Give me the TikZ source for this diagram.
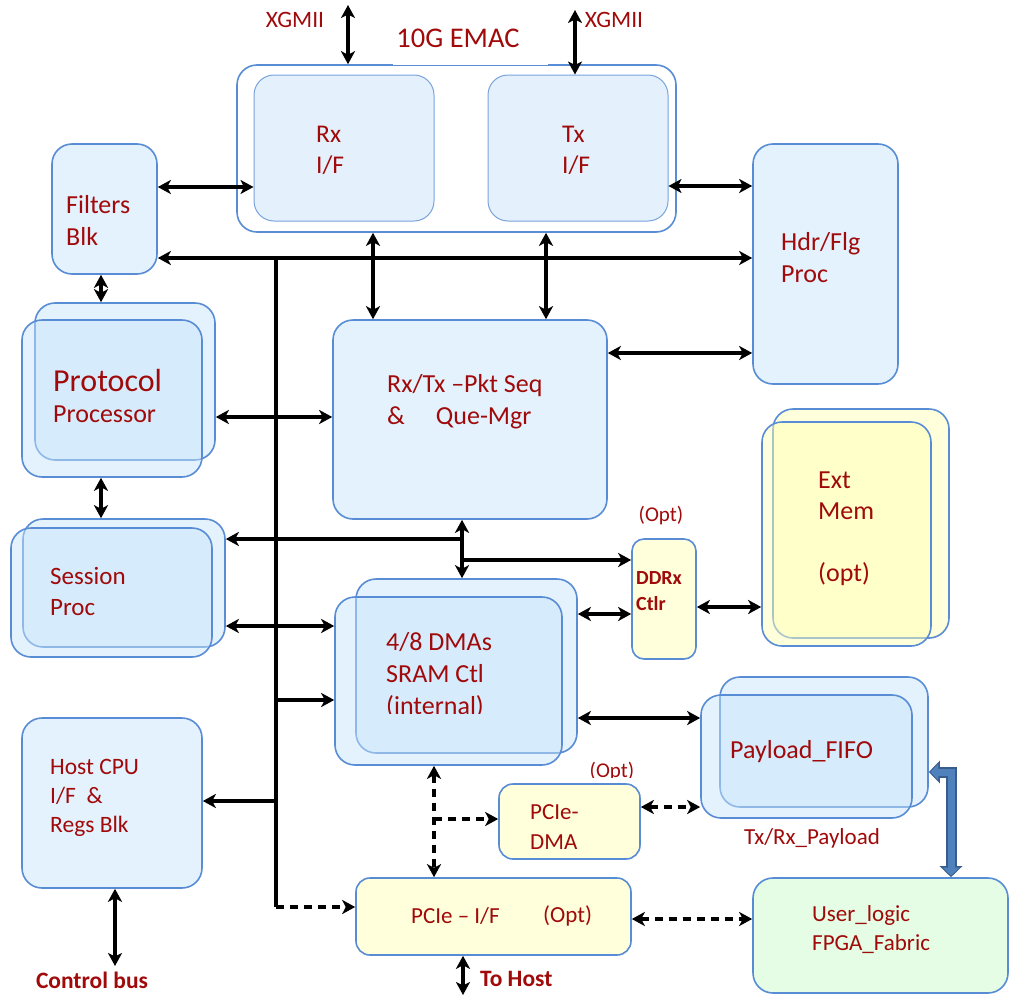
\documentclass[tikz,border=0pt]{standalone}
\usepackage{fontspec}
\setmainfont{Carlito}
\usetikzlibrary{arrows.meta}
\definecolor{txtred}{RGB}{160,10,10}
\definecolor{bord}{RGB}{88,140,212}
\definecolor{bfill}{RGB}{201,229,251}
\definecolor{yfill}{RGB}{255,255,185}
\definecolor{gfill}{RGB}{228,253,228}
\definecolor{blkblue}{RGB}{79,129,189}
\definecolor{blkedge}{RGB}{56,93,138}
\tikzstyle{line} = [line width=3.2pt, -]
\tikzstyle{arrow} = [line width=3.2pt, -{Stealth[length=13pt,width=14pt,inset=3.5pt]}]
\tikzstyle{darrow} = [line width=3.2pt, {Stealth[length=13pt,width=14pt,inset=3.5pt]}-{Stealth[length=13pt,width=14pt,inset=3.5pt]}]
\tikzstyle{dasharrow} = [arrow, dash pattern=on 8pt off 6pt]
\tikzstyle{dashdarrow} = [darrow, dash pattern=on 8pt off 6pt]
\tikzstyle{blk} = [draw=bord, line width=1.6pt, rounded corners=20pt, fill=bfill, fill opacity=0.5, inner sep=0pt]
\tikzstyle{yblk} = [blk, fill=yfill]
\tikzstyle{lbl} = [text=txtred, align=left, inner sep=0pt, anchor=west, font=\fontsize{25}{31}\selectfont]

\begin{document}
\begin{tikzpicture}[x=1pt, y=-1pt]
    \useasboundingbox (0,0) rectangle (1010,996);

    % EMAC
    \node[blk, fill=white, minimum width=439pt, minimum height=167pt] (emac) at (456.5,148.5) {};
        \draw[white, line width=2.5pt] (393,65) -- (548,65);
        \draw[bord, line width=0.6pt] (393,65) -- (548,65);
    \node[blk, draw=bord!80, line width=1pt, minimum width=180pt, minimum height=146pt] (rxif) at (344,148) {};
    \node[blk, draw=bord!80, line width=1pt, minimum width=180pt, minimum height=146pt] (txif) at (578,148) {};
        \node[lbl, font=\fontsize{25.5}{31}\selectfont] (rxtxt) at (316,150) {Rx\\I/F};
        \node[lbl, font=\fontsize{25.5}{31}\selectfont] (txtxt) at (562,150) {Tx\\I/F};
        \node[lbl, anchor=center, font=\fontsize{28.5}{31}\selectfont] (emactxt) at (458,38) {10G EMAC};
        \node[lbl, anchor=center, font=\fontsize{23.5}{24}\selectfont] (xgltxt) at (295,20) {XGMII};
        \node[lbl, anchor=center, font=\fontsize{23.5}{24}\selectfont] (xgrtxt) at (614,20) {XGMII};

    \node[blk, minimum width=105pt, minimum height=130pt] (filt) at (104.5,209) {};
        \node[lbl, font=\fontsize{26}{32}\selectfont] (filttxt) at (66,220) {Filters\\Blk};
    \node[blk, minimum width=145pt, minimum height=240pt] (hdr) at (825.5,264) {};
        \node[lbl, font=\fontsize{26}{32}\selectfont] (hdrtxt) at (781,258) {Hdr/Flg\\Proc};

    \node[blk, minimum width=180pt, minimum height=157pt] (protob) at (125,381.5) {};
    \node[blk, minimum width=180pt, minimum height=157pt] (proto) at (112,398.5) {};
        \node[lbl] (prototxt) at (53,396) {{\fontsize{32}{36}\selectfont Protocol}\\{\fontsize{26}{30}\selectfont Processor}};

    \node[blk, minimum width=274pt, minimum height=199pt] (pktq) at (470,419.5) {};
        \node[lbl, font=\fontsize{26}{32}\selectfont] (pktqtxt) at (387,402) {Rx/Tx –Pkt Seq\\\&\hspace{31pt}Que-Mgr};

    \node[blk, minimum width=202pt, minimum height=128pt] (sessb) at (124,583) {};
    \node[blk, minimum width=201pt, minimum height=129pt] (sess) at (111.5,592.5) {};
        \node[lbl] (sesstxt) at (50,591) {Session\\Proc};

    \node[blk, minimum width=221pt, minimum height=174pt] (dmab) at (466.5,666) {};
    \node[blk, minimum width=227pt, minimum height=168pt] (dma) at (448.5,681) {};
        \begin{scope}
            \clip (330,560) rectangle (600,713);
            \node[lbl, font=\fontsize{26}{32}\selectfont] (dmatxt) at (386,675) {4/8 DMAs\\SRAM Ctl\\(internal)};
        \end{scope}

    \node[yblk, rounded corners=12pt, minimum width=64pt, minimum height=120pt] (ddr) at (664,599) {};
        \node[lbl, font=\bfseries\fontsize{20}{26}\selectfont] (ddrtxt) at (636,591) {DDRx\\Ctlr};
        \node[lbl, anchor=center, font=\fontsize{21}{24}\selectfont] (ddropt) at (661,516) {(Opt)};

    \node[yblk, minimum width=176pt, minimum height=229pt] (extb) at (861,523.5) {};
    \node[yblk, minimum width=169pt, minimum height=224pt] (ext) at (846.5,534) {};
        \node[lbl, font=\fontsize{26}{31}\selectfont] (exttxt) at (818,529) {Ext\\Mem\\\mbox{}\\(opt)};

    \node[blk, minimum width=208pt, minimum height=130pt] (fifob) at (824,742) {};
    \node[blk, minimum width=211pt, minimum height=123pt] (fifo) at (806.5,756.5) {};
        \node[lbl, font=\fontsize{26}{31}\selectfont] (fifotxt) at (730,752) {Payload\_FIFO};
        \node[lbl, anchor=center, font=\fontsize{23}{24}\selectfont] (fifocap) at (812,838) {Tx/Rx\_Payload};

    \node[yblk, rounded corners=14pt, minimum width=141pt, minimum height=75pt] (pdma) at (569.5,821.5) {};
        \node[lbl, font=\fontsize{23}{30}\selectfont] (pdmatxt) at (530,827) {PCIe-\\DMA};
        \begin{scope}
            \clip (560,740) rectangle (660,777);
            \node[lbl, anchor=center, font=\fontsize{21}{24}\selectfont] (pdmaopt) at (612,772) {(Opt)};
        \end{scope}

    \node[yblk, rounded corners=14pt, minimum width=275pt, minimum height=77pt] (pcie) at (493.5,916.5) {};
        \node[lbl, font=\fontsize{23}{28}\selectfont] (pcietxt) at (411,916) {PCIe – I/F};
        \node[lbl, font=\fontsize{23}{28}\selectfont] (pcieopt) at (543,916) {(Opt)};

    \node[blk, fill=gfill, fill opacity=1, minimum width=255pt, minimum height=115pt] (user) at (880.5,935.5) {};
        \node[lbl, font=\fontsize{23}{29}\selectfont] (usertxt) at (812,930) {User\_logic\\FPGA\_Fabric};

    \node[blk, minimum width=180pt, minimum height=170pt] (host) at (112,803) {};
        \node[lbl, font=\fontsize{23.5}{29}\selectfont] (hosttxt) at (50,798) {Host CPU\\I/F~~\&\\Regs Blk};

    % Free ends and bus points
    \coordinate (xgl) at (348,5);
    \coordinate (xgr) at (575,10);
    \coordinate (busT) at (276,258);
    \coordinate (busB) at (276,907);
    \coordinate (busD) at (276,700);
    \coordinate (busH) at (276,801);
    \coordinate (j1) at (462,539);
    \coordinate (j2) at (462,560);
    \coordinate (j3) at (434,819);
    \coordinate (tohost) at (463,995);
    \coordinate (ctlbus) at (115,966);

    % Draw Arrows
    \draw[darrow] (xgl) -- (xgl |- emac.north);
    \draw[darrow] (xgr) -- (xgr |- txif.north);
    \draw[darrow] (filt.east |- 0,187) -- (rxif.west |- 0,187);
    \draw[darrow] (txif.east |- 0,186) -- (hdr.west |- 0,186);
    \draw[darrow] (filt.east |- busT) -- (hdr.west |- busT);
    \draw[line] (busT) -- (busB);
    \draw[dasharrow] (busB) -- (pcie.west |- busB);
    \draw[darrow] (emac.south -| 373,0) -- (pktq.north -| 373,0);
    \draw[darrow] (emac.south -| 546,0) -- (pktq.north -| 546,0);
    \draw[darrow] (pktq.east |- 0,353) -- (hdr.west |- 0,353);
    \draw[darrow] (protob.east |- 0,417) -- (pktq.west |- 0,417);
    \draw[darrow] (filt.south -| 101,0) -- (protob.north -| 101,0);
    \draw[darrow] (proto.south -| 101,0) -- (sessb.north -| 101,0);
    \draw[darrow] (pktq.south -| j1) -- (dmab.north -| j1);
    \draw[arrow] (j1) -- (sessb.east |- j1);
    \draw[arrow] (j2) -- (ddr.west |- j2);
    \draw[darrow] (sessb.east |- 0,626) -- (dma.west |- 0,626);
    \draw[arrow] (busD) -- (dma.west |- busD);
    \draw[arrow] (busH) -- (host.east |- busH);
    \draw[darrow] (dmab.east |- 0,614) -- (ddr.west |- 0,614);
    \draw[darrow] (ddr.east |- 0,607) -- (ext.west |- 0,607);
    \draw[darrow] (dmab.east |- 0,718) -- (fifo.west |- 0,718);
    \draw[dashdarrow] (dma.south -| j3) -- (pcie.north -| j3);
    \draw[dasharrow] (j3) -- (pdma.west |- j3);
    \draw[dashdarrow] (pdma.east |- 0,807) -- (fifo.west |- 0,807);
    \draw[dashdarrow] (pcie.east |- 0,919) -- (user.west |- 0,919);
    \draw[darrow] (pcie.south -| tohost) -- (tohost);
    \draw[darrow] (host.south -| ctlbus) -- (ctlbus);
        \node[lbl, font=\bfseries\fontsize{23.5}{26}\selectfont] (tohosttxt) at (480,979) {To Host};
        \node[lbl, anchor=center, font=\bfseries\fontsize{23.5}{26}\selectfont] (ctlbustxt) at (92,980) {Control bus};

    % Payload <-> user logic
    \draw[line width=11pt, blkedge, {Triangle[length=11pt,width=22pt]}-{Triangle[length=11pt,width=22pt]}] (user.north -| 951,0) |- (fifob.east |- 0,772);
    \draw[line width=7pt, blkblue, {Triangle[length=8pt,width=16pt]}-{Triangle[length=8pt,width=16pt]}, shorten <=1.5pt, shorten >=1.5pt] (user.north -| 951,0) |- (fifob.east |- 0,772);

\end{tikzpicture}
\end{document}
